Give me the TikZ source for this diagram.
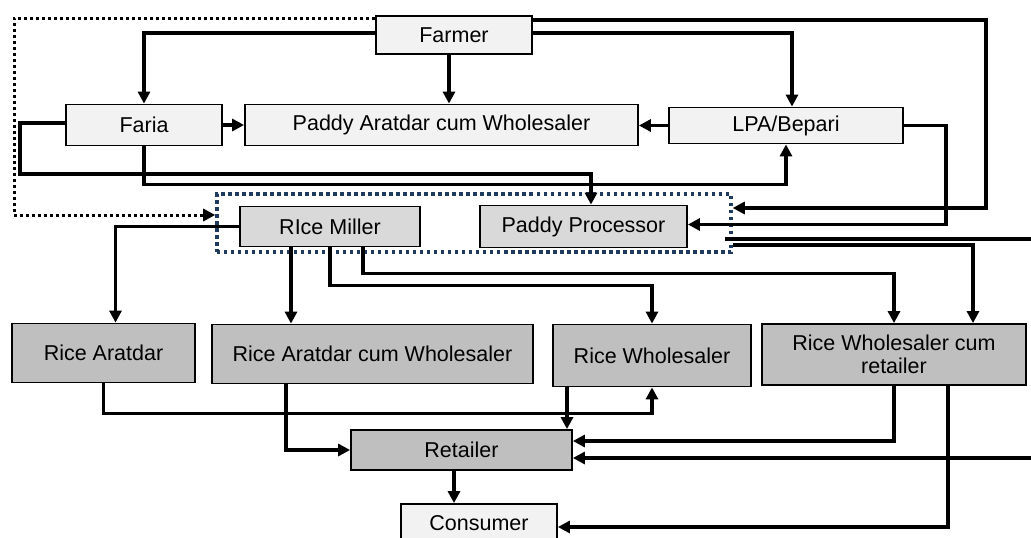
\documentclass[tikz,border=0pt]{standalone}
\usepackage{fontspec}
\setmainfont{Liberation Sans}
\usepackage{xcolor}
\usetikzlibrary{positioning, arrows.meta}
\definecolor{navy}{HTML}{1F3A5F}

\begin{document}
\begin{tikzpicture}[node distance=90pt,
    nodebox/.style={rectangle, draw, line width=1.8pt, inner sep=0pt, align=center, font=\fontsize{21.5}{22.5}\selectfont},
    topbox/.style={nodebox, fill=black!5},
    millbox/.style={nodebox, fill=black!15},
    tradebox/.style={nodebox, fill=black!25},
    groupbox/.style={rectangle, draw=navy, line width=3.5pt, dash pattern=on 3.5pt off 3.5pt},
    flow/.style={line width=3.3pt},
    arr/.style={flow, -{Triangle[width=12pt,length=12pt]}},
    dotarr/.style={line width=3pt, dash pattern=on 3pt off 3pt, -{Triangle[width=12pt,length=12pt]}}]
    \useasboundingbox (-454pt,35pt) rectangle (577pt,-503pt);
    \coordinate (edge) at (577pt,0);

    \node (farmer) [topbox, minimum width=156pt, minimum height=38pt] {Farmer};
    \node (faria) [below of=farmer, topbox, minimum width=156pt, minimum height=41pt, xshift=-310pt] {Faria};
    \node (pac) [right of=faria, topbox, minimum width=393pt, minimum height=41pt, xshift=207.5pt] {Paddy Aratdar cum Wholesaler};
    \node (lpa) [right of=pac, topbox, minimum width=234pt, minimum height=36pt, xshift=254.5pt, yshift=-0.5pt] {LPA/Bepari};
    \node (miller) [below of=pac, millbox, minimum width=180pt, minimum height=40pt, xshift=-111.5pt, yshift=-11.5pt] {RIce Miller};
    \node (proc) [right of=miller, millbox, minimum width=207pt, minimum height=42pt, xshift=163.5pt] {Paddy Processor};
    \node (grp) [below of=farmer, groupbox, minimum width=514pt, minimum height=58pt, xshift=20pt, yshift=-98pt] {};
    \node (racw) [below of=miller, tradebox, minimum width=321pt, minimum height=59pt, xshift=42.5pt, yshift=-37.5pt] {Rice Aratdar cum Wholesaler};
    \node (raratdar) [left of=racw, tradebox, minimum width=183pt, minimum height=59pt, xshift=-179pt, yshift=1pt] {Rice Aratdar};
    \node (rwhole) [right of=racw, tradebox, minimum width=198pt, minimum height=62pt, xshift=189.5pt, yshift=-1.5pt] {Rice Wholesaler};
    \node (rwcr) [right of=rwhole, tradebox, minimum width=264pt, minimum height=61pt, xshift=152pt, yshift=1pt] {Rice Wholesaler cum\\retailer};
    \node (retailer) [below of=racw, tradebox, minimum width=221pt, minimum height=40pt, xshift=89pt, yshift=-6pt] {Retailer};
    \node (consumer) [below of=retailer, topbox, minimum width=156pt, minimum height=38pt, xshift=17.5pt, yshift=17pt] {Consumer};
    \coordinate (outA) at ([yshift=-16pt]grp.east -| edge);
    \coordinate (outB) at ([yshift=-8pt]retailer.east -| edge);

    \draw [arr] ([yshift=2pt]farmer.west) -| (faria.north);
    \draw [arr] ([xshift=-5pt]farmer.south) -- ([xshift=-5pt]farmer.south |- pac.north);
    \draw [arr] ([yshift=2pt]farmer.east) -| ([xshift=6pt]lpa.north);
    \draw [arr] ([yshift=15pt]farmer.east) -- ++(453pt,0) |- ([yshift=15pt]grp.east);
    \draw [dotarr] ([yshift=-3pt]farmer.north west) -- ++(-361pt,0) |- ([yshift=8pt]grp.west);
    \draw [arr] (faria.east) -- (faria.east -| pac.west);
    \draw [arr] (lpa.west) -- (lpa.west -| pac.east);
    \draw [arr] ([yshift=2pt]faria.west) -- ++(-45pt,0) -- ++(0,-51pt) -| ([xshift=7.5pt]proc.north);
    \draw [arr] (faria.south) -- ++(0,-38pt) -| (lpa.south);
    \draw [arr] (lpa.east) -- ++(42pt,0) |- ([yshift=2pt]proc.east);
    \draw [flow] ([xshift=-8pt]outA -| grp.east) -- (outA);
    \draw [arr] ([yshift=-22pt]grp.east) -| ([xshift=79pt]rwcr.north);
    \draw [arr] (miller.west) -| ([xshift=12pt]raratdar.north);
    \draw [arr] ([xshift=-39pt]miller.south) -- ([xshift=-39pt]miller.south |- racw.north);
    \draw [arr] (miller.south) -- ++(0,-38pt) -| (rwhole.north);
    \draw [arr] ([xshift=33pt]miller.south) -- ++(0,-26pt) -| (rwcr.north);
    \draw [arr] (raratdar.south) -- ++(0,-30pt) -| (rwhole.south);
    \draw [arr] ([xshift=-86.5pt]racw.south) |- (retailer.west);
    \draw [arr] ([xshift=-85pt]rwhole.south) -- ([xshift=-85pt]rwhole.south |- retailer.north);
    \draw [arr] (rwcr.south) |- ([yshift=9pt]retailer.east);
    \draw [arr] (outB) -- ([yshift=-8pt]retailer.east);
    \draw [arr] ([xshift=54pt]rwcr.south) |- ([yshift=-4pt]consumer.east);
    \draw [arr] ([xshift=-7.5pt]retailer.south) -- ([xshift=-7.5pt]retailer.south |- consumer.north);
\end{tikzpicture}
\end{document}
